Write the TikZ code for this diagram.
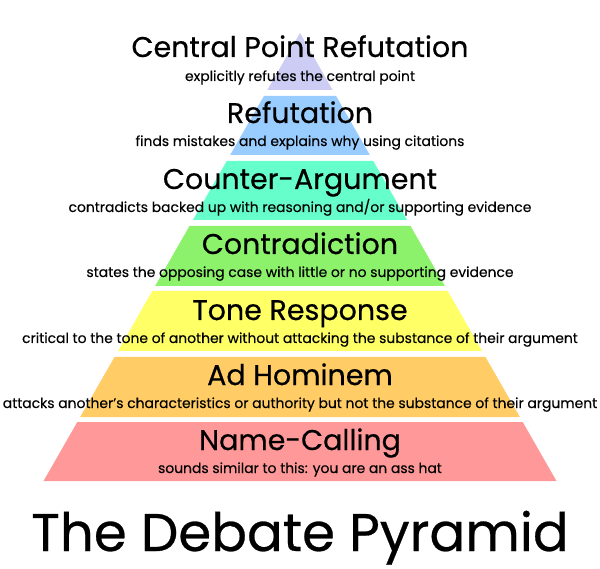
\documentclass[tikz,border=0pt]{standalone}
\usepackage{fontspec}
\setmainfont{Poppins}
\newfontfamily\headfont{Poppins}[FakeBold=0.5]
\newfontfamily\subfont{Poppins}[FakeBold=0.25]
\definecolor{cLav}{HTML}{CCCCF5}
\definecolor{cBlue}{HTML}{99CCFF}
\definecolor{cAqua}{HTML}{66FFCC}
\definecolor{cGreen}{HTML}{8CF26C}
\definecolor{cYellow}{HTML}{FFFF66}
\definecolor{cOrange}{HTML}{FFCC66}
\definecolor{cPink}{HTML}{FF9999}
\tikzset{
  head/.style={anchor=base, inner sep=0pt, font=\headfont\fontsize{28.5}{30}\selectfont},
  sub/.style={anchor=base, inner sep=0pt, font=\subfont\fontsize{13.9}{15}\selectfont},
  titletext/.style={anchor=base, inner sep=0pt, font=\headfont\fontsize{53}{58}\selectfont},
}
\begin{document}
\begin{tikzpicture}[x=1pt,y=-1pt]
\useasboundingbox (0,0) rectangle (600,569);
\fill[white] (0,0) rectangle (600,569);
\def\kk{0.5725}
% top triangle
\fill[cLav] (300,33) -- ({300-(90-33)*\kk},90) -- ({300+(90-33)*\kk},90) -- cycle;
\foreach \ya/\yb/\col in {96/155/cBlue,161/220/cAqua,226/286/cGreen,291/351/cYellow,357/417/cOrange,422/481/cPink}{
  \fill[\col] ({300-(\ya-33)*\kk},\ya) -- ({300+(\ya-33)*\kk},\ya) -- ({300+(\yb-33)*\kk},\yb) -- ({300-(\yb-33)*\kk},\yb) -- cycle;
}
\node[head] (h1) at (300,57) {Central Point Refutation};
\node[sub]  (s1) at (300,81) {explicitly refutes the central point};
\node[head] (h2) at (300,123) {Refutation};
\node[sub]  (s2) at (300,146) {finds mistakes and explains why using citations};
\node[head] (h3) at (300,189) {Counter-Argument};
\node[sub]  (s3) at (300,212) {contradicts backed up with reasoning and/or supporting evidence};
\node[head] (h4) at (300,254) {Contradiction};
\node[sub]  (s4) at (300,277) {states the opposing case with little or no supporting evidence};
\node[head] (h5) at (300,320) {Tone Response};
\node[sub]  (s5) at (300,343) {critical to the tone of another without attacking the substance of their argument};
\node[head] (h6) at (300,385) {Ad Hominem};
\node[sub]  (s6) at (300,408) {attacks another’s characteristics or authority but not the substance of their argument};
\node[head] (h7) at (300,450) {Name-Calling};
\node[sub]  (s7) at (300,473) {sounds similar to this: you are an ass hat};
\node[titletext] (title) at (300,551) {The Debate Pyramid};
\end{tikzpicture}
\end{document}
